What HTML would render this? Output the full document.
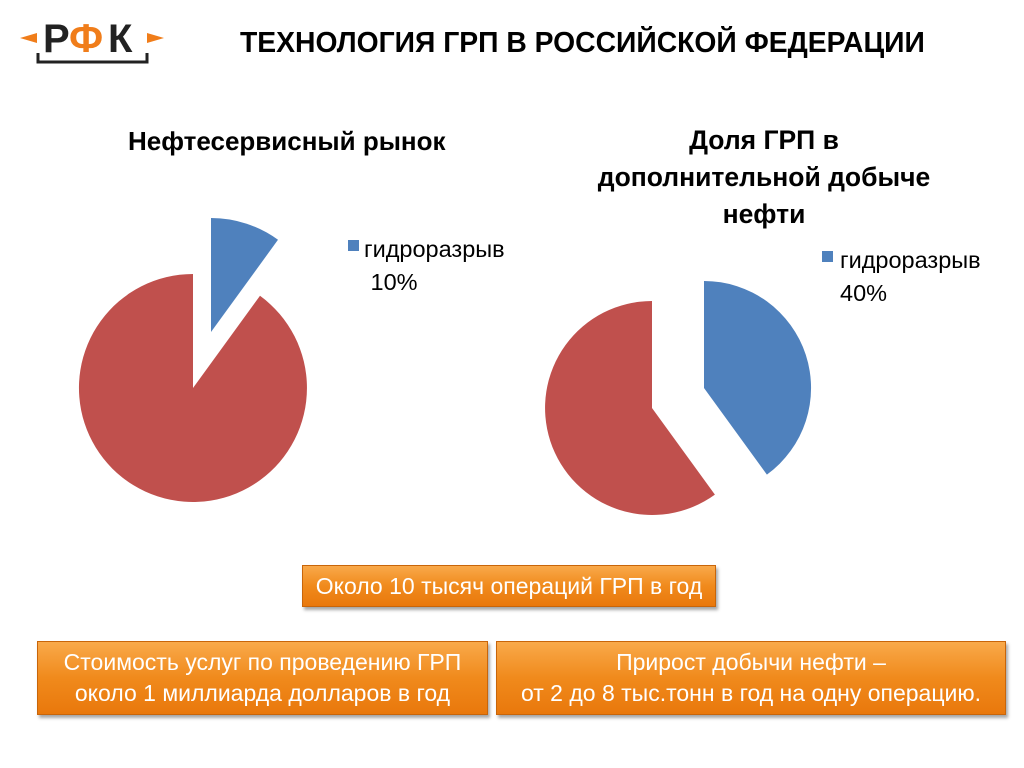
<!DOCTYPE html>
<html><head><meta charset="utf-8"><style>
body{margin:0;width:1024px;height:768px;background:#fff;position:relative;overflow:hidden;font-family:"Liberation Sans","DejaVu Sans",sans-serif}
.t{position:absolute;white-space:nowrap}
.box{position:absolute;background:linear-gradient(#f9a94a,#f08a1c 50%,#e9780c);border:1px solid #c8650a;box-shadow:2px 3px 3px rgba(0,0,0,.35);color:#fff;text-align:center;font-size:23px;display:flex;align-items:center;justify-content:center;line-height:31px}
</style></head><body>
<svg width="1024" height="768" style="position:absolute;left:0;top:0">
<polygon points="20,38 37,33 37,43" fill="#f07d1a"/>
<polygon points="164,38 147,33 147,43" fill="#f07d1a"/>
<text x="43" y="52" font-family="Liberation Sans" font-weight="bold" font-size="40" fill="#222">Р</text>
<text x="69" y="52" font-family="Liberation Sans" font-weight="bold" font-size="40" fill="#f07d1a">Ф</text>
<text x="108" y="52" font-family="Liberation Sans" font-weight="bold" font-size="40" fill="#222">К</text>
<path d="M38,53 V62 H147 V53" stroke="#222" stroke-width="3" fill="none"/>
<path d="M211,332 L211,218 A114,114 0 0 1 278,239.8 Z" fill="#4f81bd"/>
<path d="M193,388 L260,295.8 A114,114 0 1 1 193,274 Z" fill="#c0504d"/>
<path d="M704,388 L704,281 A107,107 0 0 1 766.9,474.6 Z" fill="#4f81bd"/>
<path d="M652,408 L714.9,494.6 A107,107 0 1 1 652,301 Z" fill="#c0504d"/>
<rect x="348" y="240" width="11" height="11" fill="#4f81bd"/>
<rect x="822" y="251" width="11" height="11" fill="#4f81bd"/>
</svg>
<div class="t" style="left:240px;top:26px;font-size:28.3px;font-weight:bold">ТЕХНОЛОГИЯ ГРП В РОССИЙСКОЙ ФЕДЕРАЦИИ</div>
<div class="t" style="left:128px;top:126px;font-size:26px;font-weight:bold">Нефтесервисный рынок</div>
<div class="t" style="left:564px;top:122px;width:400px;text-align:center;font-size:26.5px;font-weight:bold;line-height:37px;white-space:normal">Доля ГРП в<br>дополнительной добыче<br>нефти</div>
<div class="t" style="left:364px;top:233px;font-size:23.5px;line-height:33px">гидроразрыв<br>&nbsp;10%</div>
<div class="t" style="left:840px;top:244px;font-size:23.5px;line-height:33px">гидроразрыв<br>40%</div>
<div class="box" style="left:302px;top:565px;width:412px;height:40px">Около 10 тысяч операций ГРП в год</div>
<div class="box" style="left:37px;top:641px;width:449px;height:72px">Стоимость услуг по проведению ГРП<br>около 1 миллиарда долларов в год</div>
<div class="box" style="left:496px;top:641px;width:508px;height:72px">Прирост добычи нефти –<br>от 2 до 8 тыс.тонн в год на одну операцию.</div>
</body></html>
